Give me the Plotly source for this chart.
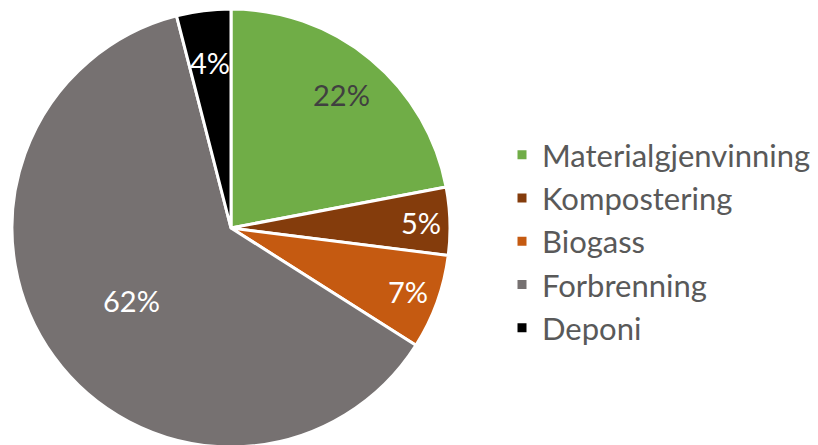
import math
import plotly.graph_objects as go

categories = ["Materialgjenvinning", "Kompostering", "Biogass", "Forbrenning", "Deponi"]
values = [22, 5, 7, 62, 4]
colors = ["#70AD47", "#843C0C", "#C55A11", "#767171", "#000000"]
text_colors = ["#404040", "#FFFFFF", "#FFFFFF", "#FFFFFF", "#FFFFFF"]
label_radius = [0.79, 0.87, 0.86, 0.56, 0.76]  # style: radial position of data labels

OFF = 8  # browser body margin
W, H = 818, 460
cx, cy, r = 231 - OFF, 228 - OFF, 219

fig = go.Figure(go.Pie(
    labels=categories,
    values=values,
    marker=dict(colors=colors, line=dict(color="white", width=3)),
    sort=False,
    direction="clockwise",
    rotation=0,
    textinfo="none",
    domain=dict(x=[(cx - r) / W, (cx + r) / W], y=[1 - (cy + r) / H, 1 - (cy - r) / H]),
    showlegend=True,
    hoverinfo="label+percent",
))

total = sum(values)
cum = 0
for v, tc, fr in zip(values, text_colors, label_radius):
    mid = (cum + v / 2) / total * 2 * math.pi
    cum += v
    x = cx + fr * r * math.sin(mid)
    y = cy - fr * r * math.cos(mid)
    fig.add_annotation(x=x / W, y=1 - y / H, xref="paper", yref="paper",
                       text=f"{round(v / total * 100)}%", showarrow=False,
                       font=dict(size=29, color=tc, family="Lato"),
                       xanchor="center", yanchor="middle")

fig.update_layout(
    width=W, height=H,
    margin=dict(l=0, r=0, t=0, b=0),
    paper_bgcolor="white",
    font=dict(family="Lato", color="#595959"),
    legend=dict(x=494 / W, y=1 - 120 / H, xanchor="left", yanchor="top",
                font=dict(size=31, color="#595959", family="Lato"),
                tracegroupgap=0),
)

fig.write_html("out.html")
